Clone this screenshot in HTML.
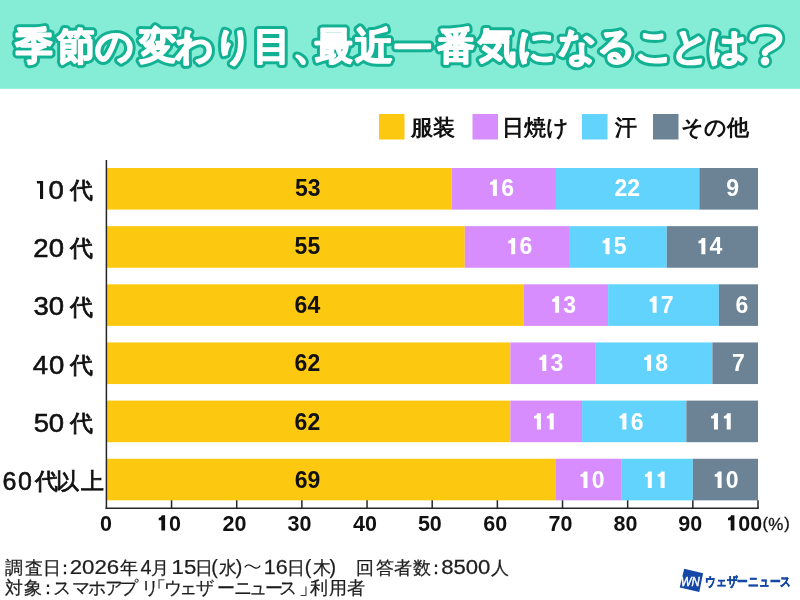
<!DOCTYPE html>
<html lang="ja"><head><meta charset="utf-8">
<style>
html,body{margin:0;padding:0;width:800px;height:600px;overflow:hidden;background:#fff;font-family:"Liberation Sans",sans-serif;}
svg{position:absolute;left:0;top:0;font-family:"Liberation Sans",sans-serif;will-change:transform;}
.title{font-size:38px;font-weight:bold;}
.v{font-size:23px;font-weight:bold;text-anchor:middle;}
.age{fill:#111;stroke:#111;stroke-width:0.7px;}
.ax{font-size:21.5px;font-weight:bold;text-anchor:middle;fill:#111;}
.leg{font-size:22px;fill:#111;font-weight:bold;}
.ft{fill:#1e1e1e;stroke:#1e1e1e;stroke-width:0.25px;}
</style></head><body>
<svg width="800" height="600" viewBox="0 0 800 600">
<rect x="0" y="0" width="800" height="88.8" fill="#85ecd6"/>
<text x="34.20" y="59.3" text-anchor="middle" class="title" fill="#fff" stroke="#13b193" stroke-width="7.6" stroke-linejoin="round">季</text><text x="76.00" y="59.3" text-anchor="middle" class="title" fill="#fff" stroke="#13b193" stroke-width="7.6" stroke-linejoin="round">節</text><text x="114.90" y="59.3" text-anchor="middle" class="title" fill="#fff" stroke="#13b193" stroke-width="7.6" stroke-linejoin="round">の</text><text x="157.60" y="59.3" text-anchor="middle" class="title" fill="#fff" stroke="#13b193" stroke-width="7.6" stroke-linejoin="round">変</text><text x="194.20" y="59.3" text-anchor="middle" class="title" fill="#fff" stroke="#13b193" stroke-width="7.6" stroke-linejoin="round">わ</text><text x="233.15" y="59.3" text-anchor="middle" class="title" fill="#fff" stroke="#13b193" stroke-width="7.6" stroke-linejoin="round">り</text><text x="271.50" y="59.3" text-anchor="middle" class="title" fill="#fff" stroke="#13b193" stroke-width="7.6" stroke-linejoin="round">目</text><text x="311.66" y="59.3" text-anchor="middle" class="title" fill="#fff" stroke="#13b193" stroke-width="7.6" stroke-linejoin="round">、</text><text x="333.60" y="59.3" text-anchor="middle" class="title" fill="#fff" stroke="#13b193" stroke-width="7.6" stroke-linejoin="round">最</text><text x="373.80" y="59.3" text-anchor="middle" class="title" fill="#fff" stroke="#13b193" stroke-width="7.6" stroke-linejoin="round">近</text><text x="412.50" y="60.8" text-anchor="middle" class="title" fill="#fff" stroke="#13b193" stroke-width="7.6" stroke-linejoin="round">一</text><text x="455.50" y="59.3" text-anchor="middle" class="title" fill="#fff" stroke="#13b193" stroke-width="7.6" stroke-linejoin="round">番</text><text x="496.90" y="59.3" text-anchor="middle" class="title" fill="#fff" stroke="#13b193" stroke-width="7.6" stroke-linejoin="round">気</text><text x="536.90" y="59.3" text-anchor="middle" class="title" fill="#fff" stroke="#13b193" stroke-width="7.6" stroke-linejoin="round">に</text><text x="577.20" y="59.3" text-anchor="middle" class="title" fill="#fff" stroke="#13b193" stroke-width="7.6" stroke-linejoin="round">な</text><text x="616.20" y="59.3" text-anchor="middle" class="title" fill="#fff" stroke="#13b193" stroke-width="7.6" stroke-linejoin="round">る</text><text x="654.00" y="59.3" text-anchor="middle" class="title" fill="#fff" stroke="#13b193" stroke-width="7.6" stroke-linejoin="round">こ</text><text x="690.10" y="59.3" text-anchor="middle" class="title" fill="#fff" stroke="#13b193" stroke-width="7.6" stroke-linejoin="round">と</text><text x="727.90" y="59.3" text-anchor="middle" class="title" fill="#fff" stroke="#13b193" stroke-width="7.6" stroke-linejoin="round">は</text><text x="34.20" y="59.3" text-anchor="middle" class="title" fill="#fff" stroke="#fff" stroke-width="1.6" stroke-linejoin="round">季</text><text x="76.00" y="59.3" text-anchor="middle" class="title" fill="#fff" stroke="#fff" stroke-width="1.6" stroke-linejoin="round">節</text><text x="114.90" y="59.3" text-anchor="middle" class="title" fill="#fff" stroke="#fff" stroke-width="1.6" stroke-linejoin="round">の</text><text x="157.60" y="59.3" text-anchor="middle" class="title" fill="#fff" stroke="#fff" stroke-width="1.6" stroke-linejoin="round">変</text><text x="194.20" y="59.3" text-anchor="middle" class="title" fill="#fff" stroke="#fff" stroke-width="1.6" stroke-linejoin="round">わ</text><text x="233.15" y="59.3" text-anchor="middle" class="title" fill="#fff" stroke="#fff" stroke-width="1.6" stroke-linejoin="round">り</text><text x="271.50" y="59.3" text-anchor="middle" class="title" fill="#fff" stroke="#fff" stroke-width="1.6" stroke-linejoin="round">目</text><text x="311.66" y="59.3" text-anchor="middle" class="title" fill="#fff" stroke="#fff" stroke-width="1.6" stroke-linejoin="round">、</text><text x="333.60" y="59.3" text-anchor="middle" class="title" fill="#fff" stroke="#fff" stroke-width="1.6" stroke-linejoin="round">最</text><text x="373.80" y="59.3" text-anchor="middle" class="title" fill="#fff" stroke="#fff" stroke-width="1.6" stroke-linejoin="round">近</text><text x="412.50" y="60.8" text-anchor="middle" class="title" fill="#fff" stroke="#fff" stroke-width="1.6" stroke-linejoin="round">一</text><text x="455.50" y="59.3" text-anchor="middle" class="title" fill="#fff" stroke="#fff" stroke-width="1.6" stroke-linejoin="round">番</text><text x="496.90" y="59.3" text-anchor="middle" class="title" fill="#fff" stroke="#fff" stroke-width="1.6" stroke-linejoin="round">気</text><text x="536.90" y="59.3" text-anchor="middle" class="title" fill="#fff" stroke="#fff" stroke-width="1.6" stroke-linejoin="round">に</text><text x="577.20" y="59.3" text-anchor="middle" class="title" fill="#fff" stroke="#fff" stroke-width="1.6" stroke-linejoin="round">な</text><text x="616.20" y="59.3" text-anchor="middle" class="title" fill="#fff" stroke="#fff" stroke-width="1.6" stroke-linejoin="round">る</text><text x="654.00" y="59.3" text-anchor="middle" class="title" fill="#fff" stroke="#fff" stroke-width="1.6" stroke-linejoin="round">こ</text><text x="690.10" y="59.3" text-anchor="middle" class="title" fill="#fff" stroke="#fff" stroke-width="1.6" stroke-linejoin="round">と</text><text x="727.90" y="59.3" text-anchor="middle" class="title" fill="#fff" stroke="#fff" stroke-width="1.6" stroke-linejoin="round">は</text>
<path d="M752.6,38.3 C752.6,32.5 758.5,30.2 766.2,30.2 C774.5,30.2 779.3,33.8 779.3,38.6 C779.3,43.5 774,46 769.5,48.5 C766.3,50.3 765,51.5 765,52.8" fill="none" stroke="#13b193" stroke-width="11.899999999999999" stroke-linecap="round" stroke-linejoin="round"/>
<circle cx="765" cy="61.1" r="7.1" fill="#13b193"/>
<path d="M752.6,38.3 C752.6,32.5 758.5,30.2 766.2,30.2 C774.5,30.2 779.3,33.8 779.3,38.6 C779.3,43.5 774,46 769.5,48.5 C766.3,50.3 765,51.5 765,52.8" fill="none" stroke="#fff" stroke-width="6.3" stroke-linecap="round" stroke-linejoin="round"/>
<circle cx="765" cy="61.1" r="4.3" fill="#fff"/>
<rect x="379" y="114" width="25.5" height="25.5" fill="#fdc910"/>
<text x="411.0" y="134.5" class="leg">服装</text>
<rect x="472.5" y="114" width="25.5" height="25.5" fill="#d78dfe"/>
<text x="501.7" y="134.5" class="leg">日焼け</text>
<rect x="582" y="114" width="25.5" height="25.5" fill="#62d3fd"/>
<text x="615.0" y="134.5" class="leg">汗</text>
<rect x="653" y="114" width="25.5" height="25.5" fill="#6c8396"/>
<text x="681.0" y="134.5" class="leg">その他</text>
<rect x="106.40" y="168.00" width="345.35" height="41.6" fill="#fdc910"/><rect x="451.75" y="168.00" width="104.26" height="41.6" fill="#d78dfe"/><rect x="556.00" y="168.00" width="143.35" height="41.6" fill="#62d3fd"/><rect x="699.36" y="168.00" width="58.64" height="41.6" fill="#6c8396"/><rect x="106.40" y="226.15" width="358.38" height="41.6" fill="#fdc910"/><rect x="464.78" y="226.15" width="104.26" height="41.6" fill="#d78dfe"/><rect x="569.04" y="226.15" width="97.74" height="41.6" fill="#62d3fd"/><rect x="666.78" y="226.15" width="91.22" height="41.6" fill="#6c8396"/><rect x="106.40" y="284.30" width="417.02" height="41.6" fill="#fdc910"/><rect x="523.42" y="284.30" width="84.71" height="41.6" fill="#d78dfe"/><rect x="608.13" y="284.30" width="110.77" height="41.6" fill="#62d3fd"/><rect x="718.90" y="284.30" width="39.10" height="41.6" fill="#6c8396"/><rect x="106.40" y="342.45" width="403.99" height="41.6" fill="#fdc910"/><rect x="510.39" y="342.45" width="84.71" height="41.6" fill="#d78dfe"/><rect x="595.10" y="342.45" width="117.29" height="41.6" fill="#62d3fd"/><rect x="712.39" y="342.45" width="45.61" height="41.6" fill="#6c8396"/><rect x="106.40" y="400.60" width="403.99" height="41.6" fill="#fdc910"/><rect x="510.39" y="400.60" width="71.68" height="41.6" fill="#d78dfe"/><rect x="582.07" y="400.60" width="104.26" height="41.6" fill="#62d3fd"/><rect x="686.32" y="400.60" width="71.68" height="41.6" fill="#6c8396"/><rect x="106.40" y="458.75" width="449.60" height="41.6" fill="#fdc910"/><rect x="556.00" y="458.75" width="65.16" height="41.6" fill="#d78dfe"/><rect x="621.16" y="458.75" width="71.68" height="41.6" fill="#62d3fd"/><rect x="692.84" y="458.75" width="65.16" height="41.6" fill="#6c8396"/>
<line x1="106.4" y1="160" x2="106.4" y2="508.95" stroke="#262626" stroke-width="1.5"/>
<line x1="105.65" y1="508.2" x2="758.75" y2="508.2" stroke="#262626" stroke-width="1.5"/>
<line x1="171.56" y1="500.3" x2="171.56" y2="508.2" stroke="#262626" stroke-width="1.5"/><line x1="236.72" y1="500.3" x2="236.72" y2="508.2" stroke="#262626" stroke-width="1.5"/><line x1="301.88" y1="500.3" x2="301.88" y2="508.2" stroke="#262626" stroke-width="1.5"/><line x1="367.04" y1="500.3" x2="367.04" y2="508.2" stroke="#262626" stroke-width="1.5"/><line x1="432.20" y1="500.3" x2="432.20" y2="508.2" stroke="#262626" stroke-width="1.5"/><line x1="497.36" y1="500.3" x2="497.36" y2="508.2" stroke="#262626" stroke-width="1.5"/><line x1="562.52" y1="500.3" x2="562.52" y2="508.2" stroke="#262626" stroke-width="1.5"/><line x1="627.68" y1="500.3" x2="627.68" y2="508.2" stroke="#262626" stroke-width="1.5"/><line x1="692.84" y1="500.3" x2="692.84" y2="508.2" stroke="#262626" stroke-width="1.5"/><line x1="758.00" y1="500.3" x2="758.00" y2="508.2" stroke="#262626" stroke-width="1.5"/>
<text x="106.00" y="530.60" font-size="21.5" font-weight="bold" fill="#111" style="text-anchor:middle">0</text><path transform="translate(157.11,530.60) scale(0.02150,-0.02150)" d="M372,0 L198,0 L198,480 L73,480 L73,590 C150,592 205,640 215,710 L372,710 Z" fill="#111"/><text x="169.06" y="530.60" font-size="21.5" font-weight="bold" fill="#111" style="text-anchor:start">0</text><text x="234.44" y="530.60" font-size="21.5" font-weight="bold" fill="#111" style="text-anchor:middle">20</text><text x="299.52" y="530.60" font-size="21.5" font-weight="bold" fill="#111" style="text-anchor:middle">30</text><text x="365.00" y="530.60" font-size="21.5" font-weight="bold" fill="#111" style="text-anchor:middle">40</text><text x="429.84" y="530.60" font-size="21.5" font-weight="bold" fill="#111" style="text-anchor:middle">50</text><text x="495.20" y="530.60" font-size="21.5" font-weight="bold" fill="#111" style="text-anchor:middle">60</text><text x="560.44" y="530.60" font-size="21.5" font-weight="bold" fill="#111" style="text-anchor:middle">70</text><text x="625.48" y="530.60" font-size="21.5" font-weight="bold" fill="#111" style="text-anchor:middle">80</text><text x="690.32" y="530.60" font-size="21.5" font-weight="bold" fill="#111" style="text-anchor:middle">90</text><path transform="translate(726.42,530.60) scale(0.02150,-0.02150)" d="M372,0 L198,0 L198,480 L73,480 L73,590 C150,592 205,640 215,710 L372,710 Z" fill="#111"/><text x="738.37" y="530.60" font-size="21.5" font-weight="bold" fill="#111" style="text-anchor:start">0</text><text x="750.33" y="530.60" font-size="21.5" font-weight="bold" fill="#111" style="text-anchor:start">0</text><text x="765.20" y="528.70" font-size="16.5" fill="#111" stroke="#111" stroke-width="0.3" text-anchor="middle">(</text><text x="775.90" y="530.00" font-size="17" fill="#111" stroke="#111" stroke-width="0.3" text-anchor="middle">%</text><text x="787.10" y="528.70" font-size="16.5" fill="#111" stroke="#111" stroke-width="0.3" text-anchor="middle">)</text>
<text x="307.79" y="195.90" font-size="23" font-weight="bold" fill="#111" style="text-anchor:middle">53</text><path transform="translate(488.34,195.90) scale(0.02300,-0.02300)" d="M372,0 L198,0 L198,480 L73,480 L73,590 C150,592 205,640 215,710 L372,710 Z" fill="#fff"/><text x="501.13" y="195.90" font-size="23" font-weight="bold" fill="#fff" style="text-anchor:start">6</text><text x="627.21" y="195.90" font-size="23" font-weight="bold" fill="#fff" style="text-anchor:middle">22</text><text x="732.58" y="195.90" font-size="23" font-weight="bold" fill="#fff" style="text-anchor:middle">9</text><text x="307.42" y="254.30" font-size="23" font-weight="bold" fill="#111" style="text-anchor:middle">55</text><path transform="translate(506.60,254.30) scale(0.02300,-0.02300)" d="M372,0 L198,0 L198,480 L73,480 L73,590 C150,592 205,640 215,710 L372,710 Z" fill="#fff"/><text x="519.39" y="254.30" font-size="23" font-weight="bold" fill="#fff" style="text-anchor:start">6</text><path transform="translate(600.97,254.30) scale(0.02300,-0.02300)" d="M372,0 L198,0 L198,480 L73,480 L73,590 C150,592 205,640 215,710 L372,710 Z" fill="#fff"/><text x="613.76" y="254.30" font-size="23" font-weight="bold" fill="#fff" style="text-anchor:start">5</text><path transform="translate(696.81,254.30) scale(0.02300,-0.02300)" d="M372,0 L198,0 L198,480 L73,480 L73,590 C150,592 205,640 215,710 L372,710 Z" fill="#fff"/><text x="709.60" y="254.30" font-size="23" font-weight="bold" fill="#fff" style="text-anchor:start">4</text><text x="307.42" y="312.70" font-size="23" font-weight="bold" fill="#111" style="text-anchor:middle">64</text><path transform="translate(550.55,312.70) scale(0.02300,-0.02300)" d="M372,0 L198,0 L198,480 L73,480 L73,590 C150,592 205,640 215,710 L372,710 Z" fill="#fff"/><text x="563.34" y="312.70" font-size="23" font-weight="bold" fill="#fff" style="text-anchor:start">3</text><path transform="translate(648.05,312.70) scale(0.02300,-0.02300)" d="M372,0 L198,0 L198,480 L73,480 L73,590 C150,592 205,640 215,710 L372,710 Z" fill="#fff"/><text x="660.84" y="312.70" font-size="23" font-weight="bold" fill="#fff" style="text-anchor:start">7</text><text x="742.00" y="312.70" font-size="23" font-weight="bold" fill="#fff" style="text-anchor:middle">6</text><text x="307.42" y="371.10" font-size="23" font-weight="bold" fill="#111" style="text-anchor:middle">62</text><path transform="translate(537.76,371.10) scale(0.02300,-0.02300)" d="M372,0 L198,0 L198,480 L73,480 L73,590 C150,592 205,640 215,710 L372,710 Z" fill="#fff"/><text x="550.55" y="371.10" font-size="23" font-weight="bold" fill="#fff" style="text-anchor:start">3</text><path transform="translate(642.55,371.10) scale(0.02300,-0.02300)" d="M372,0 L198,0 L198,480 L73,480 L73,590 C150,592 205,640 215,710 L372,710 Z" fill="#fff"/><text x="655.34" y="371.10" font-size="23" font-weight="bold" fill="#fff" style="text-anchor:start">8</text><text x="738.29" y="371.10" font-size="23" font-weight="bold" fill="#fff" style="text-anchor:middle">7</text><text x="307.42" y="429.50" font-size="23" font-weight="bold" fill="#111" style="text-anchor:middle">62</text><path transform="translate(532.35,429.50) scale(0.02300,-0.02300)" d="M372,0 L198,0 L198,480 L73,480 L73,590 C150,592 205,640 215,710 L372,710 Z" fill="#fff"/><path transform="translate(545.14,429.50) scale(0.02300,-0.02300)" d="M372,0 L198,0 L198,480 L73,480 L73,590 C150,592 205,640 215,710 L372,710 Z" fill="#fff"/><path transform="translate(617.84,429.50) scale(0.02300,-0.02300)" d="M372,0 L198,0 L198,480 L73,480 L73,590 C150,592 205,640 215,710 L372,710 Z" fill="#fff"/><text x="630.63" y="429.50" font-size="23" font-weight="bold" fill="#fff" style="text-anchor:start">6</text><path transform="translate(709.40,429.50) scale(0.02300,-0.02300)" d="M372,0 L198,0 L198,480 L73,480 L73,590 C150,592 205,640 215,710 L372,710 Z" fill="#fff"/><path transform="translate(722.19,429.50) scale(0.02300,-0.02300)" d="M372,0 L198,0 L198,480 L73,480 L73,590 C150,592 205,640 215,710 L372,710 Z" fill="#fff"/><text x="307.63" y="487.90" font-size="23" font-weight="bold" fill="#111" style="text-anchor:middle">69</text><path transform="translate(578.92,487.90) scale(0.02300,-0.02300)" d="M372,0 L198,0 L198,480 L73,480 L73,590 C150,592 205,640 215,710 L372,710 Z" fill="#fff"/><text x="591.71" y="487.90" font-size="23" font-weight="bold" fill="#fff" style="text-anchor:start">0</text><path transform="translate(643.27,487.90) scale(0.02300,-0.02300)" d="M372,0 L198,0 L198,480 L73,480 L73,590 C150,592 205,640 215,710 L372,710 Z" fill="#fff"/><path transform="translate(656.06,487.90) scale(0.02300,-0.02300)" d="M372,0 L198,0 L198,480 L73,480 L73,590 C150,592 205,640 215,710 L372,710 Z" fill="#fff"/><path transform="translate(713.05,487.90) scale(0.02300,-0.02300)" d="M372,0 L198,0 L198,480 L73,480 L73,590 C150,592 205,640 215,710 L372,710 Z" fill="#fff"/><text x="725.84" y="487.90" font-size="23" font-weight="bold" fill="#fff" style="text-anchor:start">0</text>
<path d="M36.75,181 L43.1,181 L43.1,198.9 L40,198.9 L40,183.5 L37.1,183.5 Z" fill="#111"/><text transform="translate(48.50,199.00) scale(1.1,1)" x="0" y="0" class="age" font-size="25" style="stroke-width:0.55px">0</text><text x="69.70" y="198.20" class="age" font-size="22.5" style="stroke-width:0.8px">代</text><text transform="translate(33.28,257.20) scale(1.1,1)" x="0" y="0" class="age" font-size="25" style="stroke-width:0.55px">2</text><text transform="translate(48.82,257.20) scale(1.1,1)" x="0" y="0" class="age" font-size="25" style="stroke-width:0.55px">0</text><text x="69.98" y="256.40" class="age" font-size="22.5" style="stroke-width:0.8px">代</text><text transform="translate(33.50,315.40) scale(1.1,1)" x="0" y="0" class="age" font-size="25" style="stroke-width:0.55px">3</text><text transform="translate(48.82,315.40) scale(1.1,1)" x="0" y="0" class="age" font-size="25" style="stroke-width:0.55px">0</text><text x="69.98" y="314.60" class="age" font-size="22.5" style="stroke-width:0.8px">代</text><text transform="translate(32.70,373.60) scale(1.1,1)" x="0" y="0" class="age" font-size="25" style="stroke-width:0.55px">4</text><text transform="translate(48.90,373.60) scale(1.1,1)" x="0" y="0" class="age" font-size="25" style="stroke-width:0.55px">0</text><text x="70.10" y="372.80" class="age" font-size="22.5" style="stroke-width:0.8px">代</text><text transform="translate(33.72,431.80) scale(1.1,1)" x="0" y="0" class="age" font-size="25" style="stroke-width:0.55px">5</text><text transform="translate(48.66,431.80) scale(1.1,1)" x="0" y="0" class="age" font-size="25" style="stroke-width:0.55px">0</text><text x="69.94" y="431.00" class="age" font-size="22.5" style="stroke-width:0.8px">代</text><text transform="translate(2.45,490.00) scale(1.0,1)" x="0" y="0" class="age" font-size="25" style="stroke-width:0.55px">6</text><text transform="translate(18.00,490.00) scale(1.0,1)" x="0" y="0" class="age" font-size="25" style="stroke-width:0.55px">0</text><text x="35.40" y="489.20" class="age" font-size="22.5" style="stroke-width:0.8px">代</text><text x="56.42" y="489.20" class="age" font-size="22.5" style="stroke-width:0.8px">以</text><text x="81.14" y="489.20" class="age" font-size="22.5" style="stroke-width:0.8px">上</text>
<text x="14.11" y="573.80" text-anchor="middle" font-size="18.0" class="ft">調</text><text x="34.09" y="573.80" text-anchor="middle" font-size="18.0" class="ft">査</text><text x="51.52" y="573.80" text-anchor="middle" font-size="18.0" class="ft">日</text><text x="64.75" y="573.80" text-anchor="middle" font-size="18.0" class="ft">：</text><text transform="translate(94.44,574.30) scale(1.131,1)" text-anchor="middle" font-size="19.7" class="ft">2026</text><text x="128.75" y="573.80" text-anchor="middle" font-size="18.0" class="ft">年</text><text x="146.04" y="574.30" text-anchor="middle" font-size="19.7" class="ft">4</text><text x="160.45" y="573.80" text-anchor="middle" font-size="18.0" class="ft">月</text><text transform="translate(183.97,574.30) scale(1.129,1)" text-anchor="middle" font-size="19.7" class="ft">15</text><text x="203.93" y="573.80" text-anchor="middle" font-size="18.0" class="ft">日</text><text x="214.60" y="574.30" text-anchor="middle" font-size="19.7" class="ft">(</text><text x="228.32" y="573.80" text-anchor="middle" font-size="18.0" class="ft">水</text><text x="239.07" y="574.30" text-anchor="middle" font-size="19.7" class="ft">)</text><text transform="translate(275.79,574.30) scale(1.09,1)" text-anchor="middle" font-size="19.7" class="ft">16</text><text x="296.19" y="573.80" text-anchor="middle" font-size="18.0" class="ft">日</text><text x="307.98" y="574.30" text-anchor="middle" font-size="19.7" class="ft">(</text><text x="321.76" y="573.80" text-anchor="middle" font-size="18.0" class="ft">木</text><text x="332.84" y="574.30" text-anchor="middle" font-size="19.7" class="ft">)</text><text x="365.34" y="573.80" text-anchor="middle" font-size="18.0" class="ft">回</text><text x="384.61" y="573.80" text-anchor="middle" font-size="18.0" class="ft">答</text><text x="402.90" y="573.80" text-anchor="middle" font-size="18.0" class="ft">者</text><text x="421.96" y="573.80" text-anchor="middle" font-size="18.0" class="ft">数</text><text x="435.60" y="573.80" text-anchor="middle" font-size="18.0" class="ft">：</text><text transform="translate(465.73,574.30) scale(1.124,1)" text-anchor="middle" font-size="19.7" class="ft">8500</text><text x="500.34" y="573.80" text-anchor="middle" font-size="18.0" class="ft">人</text><text x="13.56" y="593.50" text-anchor="middle" font-size="18.0" class="ft">対</text><text x="33.10" y="593.50" text-anchor="middle" font-size="18.0" class="ft">象</text><text x="47.65" y="593.50" text-anchor="middle" font-size="18.0" class="ft">：</text><text x="62.33" y="593.50" text-anchor="middle" font-size="18.0" class="ft">ス</text><text x="80.65" y="593.50" text-anchor="middle" font-size="18.0" class="ft">マ</text><text x="96.90" y="593.50" text-anchor="middle" font-size="18.0" class="ft">ホ</text><text x="113.50" y="593.50" text-anchor="middle" font-size="18.0" class="ft">ア</text><text x="129.05" y="593.50" text-anchor="middle" font-size="18.0" class="ft">プ</text><text x="150.44" y="593.50" text-anchor="middle" font-size="18.0" class="ft">リ</text><text x="156.50" y="593.50" text-anchor="middle" font-size="18.0" class="ft">「</text><text x="173.19" y="593.50" text-anchor="middle" font-size="18.0" class="ft">ウ</text><text x="188.40" y="593.50" text-anchor="middle" font-size="18.0" class="ft">ェ</text><text x="205.47" y="593.50" text-anchor="middle" font-size="18.0" class="ft">ザ</text><text x="225.51" y="593.50" text-anchor="middle" font-size="18.0" class="ft">ー</text><text x="242.50" y="593.50" text-anchor="middle" font-size="18.0" class="ft">ニ</text><text x="258.23" y="593.50" text-anchor="middle" font-size="18.0" class="ft">ュ</text><text x="273.98" y="593.50" text-anchor="middle" font-size="18.0" class="ft">ー</text><text x="288.07" y="593.50" text-anchor="middle" font-size="18.0" class="ft">ス</text><text x="307.50" y="593.50" text-anchor="middle" font-size="18.0" class="ft">」</text><text x="318.55" y="593.50" text-anchor="middle" font-size="18.0" class="ft">利</text><text x="337.70" y="593.50" text-anchor="middle" font-size="18.0" class="ft">用</text><text x="356.15" y="593.50" text-anchor="middle" font-size="18.0" class="ft">者</text>
<polygon points="684.2,568.8 703.1,573.2 699.3,591.9 679.7,587.5" fill="#1447a6"/>
<text x="680.8" y="585.9" font-size="12.5" font-style="italic" fill="#fff" stroke="#fff" stroke-width="0.45" textLength="19.0" lengthAdjust="spacingAndGlyphs">WN</text>
<text x="705" y="586.3" font-size="13" font-weight="bold" fill="#1447a6" stroke="#1447a6" stroke-width="0.5" textLength="86" lengthAdjust="spacingAndGlyphs">ウェザーニュース</text>
<path d="M244.8,567.4 C247,563.9 249.8,564.3 252.5,566.5 C255.2,568.7 258,569.1 260.2,565.6" fill="none" stroke="#1e1e1e" stroke-width="1.3"/>
</svg>
</body></html>
